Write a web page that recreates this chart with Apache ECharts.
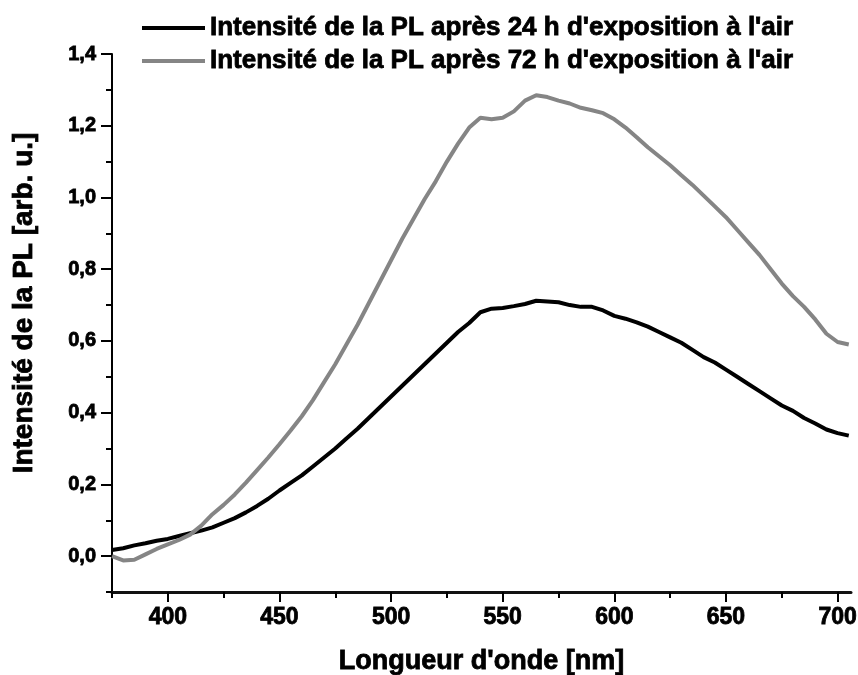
<!DOCTYPE html>
<html>
<head>
<meta charset="utf-8">
<script src="https://cdn.jsdelivr.net/npm/echarts@6/dist/echarts.min.js"></script>
<style>
  html, body { margin: 0; padding: 0; background: #fff; }
  #chart { width: 858px; height: 675px; }
</style>
</head>
<body>
<div id="chart"></div>
<script>
// Wavelength grid (nm)
var wavelengths = [375,380,385,390,395,400,405,410,415,420,425,430,435,440,445,450,455,460,465,470,475,480,485,490,495,500,505,510,515,520,525,530,535,540,545,550,555,560,565,570,575,580,585,590,595,600,605,610,615,620,625,630,635,640,645,650,655,660,665,670,675,680,685,690,695,700,705];

// PL intensity after 24 h in air
var pl24h = [0.017,0.022,0.030,0.036,0.043,0.048,0.056,0.064,0.071,0.080,0.093,0.106,0.122,0.140,0.160,0.183,0.204,0.225,0.250,0.275,0.300,0.328,0.355,0.385,0.415,0.445,0.475,0.505,0.535,0.565,0.595,0.625,0.650,0.680,0.690,0.692,0.697,0.703,0.712,0.710,0.708,0.700,0.695,0.695,0.685,0.670,0.662,0.652,0.640,0.625,0.610,0.595,0.575,0.555,0.540,0.520,0.500,0.480,0.460,0.440,0.420,0.405,0.385,0.370,0.353,0.343,0.336];

// PL intensity after 72 h in air
var pl72h = [0.000,-0.012,-0.010,0.005,0.020,0.033,0.045,0.060,0.085,0.117,0.143,0.172,0.205,0.240,0.275,0.312,0.350,0.390,0.435,0.485,0.535,0.590,0.645,0.705,0.765,0.825,0.885,0.940,0.995,1.045,1.100,1.150,1.195,1.222,1.218,1.222,1.240,1.270,1.285,1.280,1.270,1.262,1.250,1.243,1.235,1.218,1.195,1.168,1.140,1.115,1.090,1.062,1.035,1.005,0.975,0.945,0.910,0.875,0.840,0.800,0.760,0.725,0.695,0.660,0.620,0.597,0.590];

// Axis ticks
var xMajorTicks = [400,450,500,550,600,650,700];
var xMinorTicks = [375,425,475,525,575,625,675];
var yMajorTicks = [0,0.2,0.4,0.6,0.8,1.0,1.2,1.4];
var yMinorTicks = [-0.1,0.1,0.3,0.5,0.7,0.9,1.1,1.3];

var seriesNames = [
  "Intensité de la PL après 24 h d'exposition à l'air",
  "Intensité de la PL après 72 h d'exposition à l'air"
];

function pairs(xs, ys) {
  return xs.map(function (x, i) { return [x, ys[i]]; });
}

var FONT = "'Liberation Sans', Arial, sans-serif";
var X_MIN = 375, X_MAX = 706, Y_MIN = -0.1, Y_MAX = 1.4;

// heavy bold text, slightly thickened with an outline of the same colour
function heavy(size, extra) {
  var s = { fontFamily: FONT, fontWeight: 'bold', fontSize: size, color: '#000',
            textBorderColor: '#000', textBorderWidth: 0.8 };
  if (extra) { for (var k in extra) { s[k] = extra[k]; } }
  return s;
}

var chart = echarts.init(document.getElementById('chart'), null, { renderer: 'canvas' });

chart.setOption({
  backgroundColor: '#ffffff',
  animation: false,
  grid: { left: 112, right: 7, top: 54, bottom: 83, containLabel: false, outerBoundsMode: 'none' },
  legend: {
    left: 142,
    top: 13,
    padding: 0,
    orient: 'vertical',
    icon: 'rect',
    itemWidth: 63,
    itemHeight: 4,
    itemGap: 3,
    data: seriesNames,
    textStyle: heavy(26, { lineHeight: 30 })
  },
  xAxis: [{
    type: 'value', min: X_MIN, max: X_MAX,
    name: "Longueur d'onde [nm]",
    nameLocation: 'middle',
    nameGap: 56,
    nameTextStyle: heavy(27),
    axisLine: { show: true, onZero: false, lineStyle: { color: '#111', width: 3 } },
    axisTick: { show: true, customValues: xMajorTicks, length: 10, lineStyle: { color: '#000', width: 2 } },
    axisLabel: Object.assign({ show: true, customValues: xMajorTicks, margin: 14 }, heavy(23)),
    splitLine: { show: false }
  }, {
    type: 'value', min: X_MIN, max: X_MAX, position: 'bottom',
    axisLine: { show: false, onZero: false },
    axisTick: { show: true, customValues: xMinorTicks, length: 6, lineStyle: { color: '#000', width: 2 } },
    axisLabel: { show: false },
    splitLine: { show: false }
  }],
  yAxis: [{
    type: 'value', min: Y_MIN, max: Y_MAX,
    name: 'Intensité de la PL [arb. u.]',
    nameLocation: 'middle',
    nameRotate: 90,
    nameGap: 74,
    nameTextStyle: heavy(28, { padding: [0, 0, 0, 40] }),
    axisLine: { show: true, onZero: false, lineStyle: { color: '#000', width: 2 } },
    axisTick: { show: true, customValues: yMajorTicks, length: 11, lineStyle: { color: '#000', width: 2 } },
    axisLabel: Object.assign({
      show: true, customValues: yMajorTicks, margin: 16,
      formatter: function (v) { return v.toFixed(1).replace('.', ','); }
    }, heavy(20)),
    splitLine: { show: false }
  }, {
    type: 'value', min: Y_MIN, max: Y_MAX, position: 'left',
    axisLine: { show: false, onZero: false },
    axisTick: { show: true, customValues: yMinorTicks, length: 6, lineStyle: { color: '#000', width: 2 } },
    axisLabel: { show: false },
    splitLine: { show: false }
  }],
  series: [{
    name: seriesNames[0],
    type: 'line',
    xAxisIndex: 0, yAxisIndex: 0,
    data: pairs(wavelengths, pl24h),
    showSymbol: false,
    symbol: 'none',
    color: '#000000',
    lineStyle: { color: '#000000', width: 4 },
    z: 3
  }, {
    name: seriesNames[1],
    type: 'line',
    xAxisIndex: 0, yAxisIndex: 0,
    data: pairs(wavelengths, pl72h),
    showSymbol: false,
    symbol: 'none',
    color: '#858585',
    lineStyle: { color: '#858585', width: 4 },
    z: 4
  }]
});
</script>
</body>
</html>
